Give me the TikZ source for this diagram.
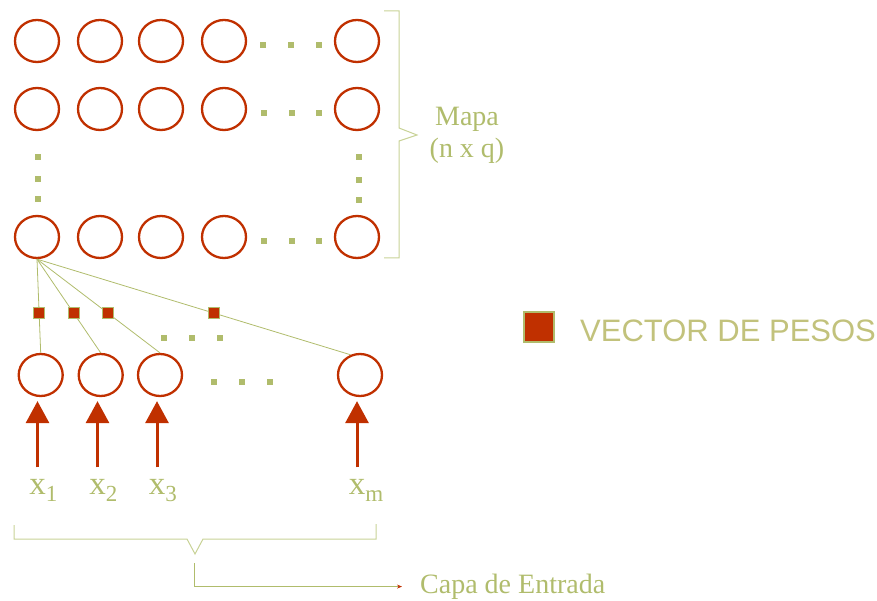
\documentclass[tikz,border=0pt]{standalone}
\usepackage{fontspec}
\setmainfont{Liberation Serif}
\newfontfamily\leyendafont{Liberation Sans}
\usetikzlibrary{shapes.geometric,arrows.meta}

\definecolor{rojo}{RGB}{192,48,0}
\definecolor{oliva}{RGB}{176,188,108}
\definecolor{olivaclaro}{RGB}{194,194,124}
\definecolor{llavecolor}{RGB}{200,210,150}

% subindice bajo, sin ancho propio
\newcommand\lowsub[1]{\rlap{\raisebox{-7pt}{\fontsize{23}{23}\selectfont #1}}}

\tikzset{
  neurona/.style={ellipse, draw=rojo, line width=2.3pt, minimum width=44pt,
    minimum height=42pt, inner sep=0pt},
  peso/.style={rectangle, fill=rojo, draw=oliva, line width=0.6pt,
    minimum size=11pt, inner sep=0pt},
  enlace/.style={draw=oliva, line width=0.8pt},
  llave/.style={draw=llavecolor, line width=1pt},
  entrada/.style={draw=rojo, line width=3pt, -{Triangle[width=23pt,length=22pt]}},
  etiq/.style={text=oliva, inner sep=0pt, font=\fontsize{33}{33}\selectfont},
}

\begin{document}
\begin{tikzpicture}[x=1pt, y=-1pt]
    \useasboundingbox (0,0) rectangle (877,601);

    % mapa de n x q neuronas
    \foreach \y [count=\r] in {41,109,237}
      \foreach \x [count=\c] in {37,100,161,224,357}
        \node [neurona] (m\r\c) at (\x,\y) {};
    \foreach \x/\y in {263/45,291/45,319/45, 264/113,292/113,319/113,
                       264/241,292/241,319/241, 38/157,38/179,38/199,
                       359/157,359/180,359/200}
      \fill [oliva] (\x-3,\y-3) rectangle (\x+3,\y+3);

    % llave del mapa
    \draw [llave] (384,11) -- (399,11) -- (399,128) -- (417,135) -- (399,141)
      -- (399,258) -- (384,258);
    \node [align=center, text=oliva, font=\fontsize{28}{32}\selectfont] (mapa)
      at (467,135.5) {Mapa\\(n x q)};

    % capa de entrada
    \node [neurona] (in1) at (40.7,375) {};
    \node [neurona] (in2) at (100.7,375) {};
    \node [neurona] (in3) at (160,375) {};
    \node [neurona] (in4) at (360,375) {};
    \foreach \x/\y in {164/338,192/338,220/338, 214/382,242/382,270/382}
      \fill [oliva] (\x-3,\y-3) rectangle (\x+3,\y+3);

    % conexiones con sus pesos
    \draw [enlace] (m31.south) -- node [peso, pos=0.576] (w1) {} (in1.north);
    \draw [enlace] (m31.south) -- node [peso, pos=0.576] (w2) {} (in2.north);
    \draw [enlace] (m31.south) -- node [peso, pos=0.576] (w3) {} (in3.north);
    \draw [enlace] (m31.south) -- node [peso, pos=0.565] (w4) {} (in4.115);

    % entradas
    \node [etiq, anchor=base] (x1) at (37.5,494.7) {x\lowsub{1}};
    \node [etiq, anchor=base] (x2) at (97.5,494.7) {x\lowsub{2}};
    \node [etiq, anchor=base] (x3) at (157,494.7) {x\lowsub{3}};
    \node [etiq, anchor=base] (xm) at (357,494.7) {x\lowsub{m}};
    \draw [entrada] ([yshift=12pt]x1.north) -- ([yshift=-4pt]x1.north |- in1.south);
    \draw [entrada] ([yshift=12pt]x2.north) -- ([yshift=-4pt]x2.north |- in2.south);
    \draw [entrada] ([yshift=12pt]x3.north) -- ([yshift=-4pt]x3.north |- in3.south);
    \draw [entrada] ([yshift=12pt]xm.north) -- ([yshift=-4pt]xm.north |- in4.south);

    % llave inferior
    \draw [llave] (14,525) -- (14,539) -- (187,539) -- (195,554) -- (203,539)
      -- (376,539) -- (376,524);
    \coordinate (pico) at (194.5,563);
    \node [anchor=base west, text=oliva, inner sep=0pt,
      font=\fontsize{28}{28}\selectfont] (capa) at (420,593.3) {Capa de Entrada};
    \draw [enlace, -{Stealth[color=rojo,length=5pt,width=4pt]}]
      (pico) |- ([xshift=-18pt]capa.west);

    % leyenda
    \node [peso, minimum size=30pt, line width=1.5pt] (leyenda) at (539,327) {};
    \node [anchor=base west, text=olivaclaro, inner sep=0pt,
      font=\leyendafont\fontsize{31}{31}\selectfont] (vector) at (580,341.7)
      {VECTOR DE PESOS};
\end{tikzpicture}
\end{document}
